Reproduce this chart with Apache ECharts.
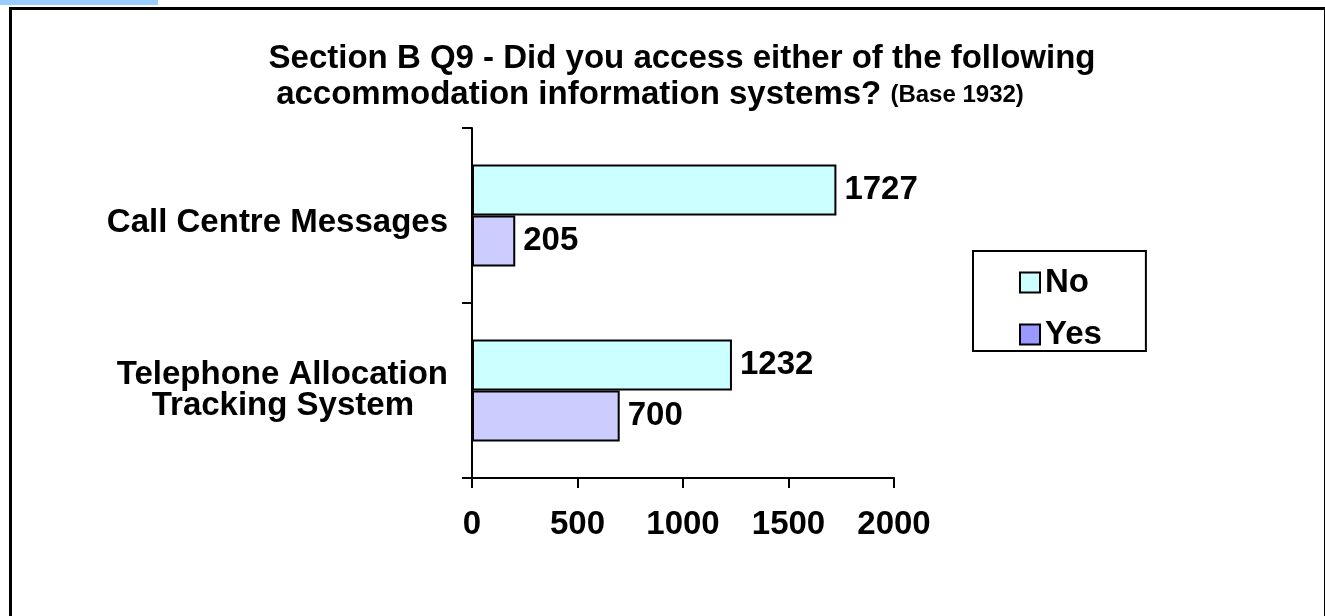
<!DOCTYPE html>
<html>
<head>
<meta charset="utf-8">
<script src="https://cdn.jsdelivr.net/npm/echarts@6/dist/echarts.min.js"></script>
<style>
  html, body { margin: 0; padding: 0; background: #fff; }
  #chart { width: 1325px; height: 616px; }
</style>
</head>
<body>
<div id="chart"></div>
<script>
var categories = ['Call Centre Messages', 'Telephone Allocation Tracking System'];
var noValues = [1727, 1232];
var yesValues = [205, 700];
var seriesNames = ['No', 'Yes'];

var FONT = '"Liberation Sans", Arial, sans-serif';
var myChart = echarts.init(document.getElementById('chart'));

var labelStyle = {
    show: true,
    position: 'right',
    distance: 8,
    color: '#000',
    fontFamily: FONT,
    fontWeight: 'bold',
    fontSize: 33
};

var option = {
    backgroundColor: '#fff',
    animation: false,
    title: {
        left: 677,
        top: 36,
        textAlign: 'center',
        text: '{t|Section B Q9 - Did you access either of the following}\n{t|accommodation information systems? }{s|(Base 1932)}',
        textStyle: {
            fontFamily: FONT,
            rich: {
                t: { fontFamily: FONT, fontWeight: 'bold', fontSize: 33, color: '#000', lineHeight: 36, align: 'center' },
                s: { fontFamily: FONT, fontWeight: 'bold', fontSize: 24, color: '#000', lineHeight: 36, padding: [0, 64, 0, 0] }
            }
        }
    },
    legend: {
        left: 973,
        top: 251,
        orient: 'vertical',
        borderColor: '#000',
        borderWidth: 2,
        padding: [15, 44, 0, 46],
        itemGap: 19,
        itemWidth: 20,
        itemHeight: 20,
        icon: 'rect',
        textStyle: { fontFamily: FONT, fontWeight: 'bold', fontSize: 33, color: '#000' },
        data: [
            { name: 'No', itemStyle: { color: '#ccffff', borderColor: '#000', borderWidth: 2 } },
            { name: 'Yes', itemStyle: { color: '#9999ff', borderColor: '#000', borderWidth: 2 } }
        ]
    },
    grid: { left: 472, right: 431, top: 128, bottom: 138 },
    xAxis: {
        type: 'value',
        min: 0,
        max: 2000,
        interval: 500,
        splitLine: { show: false },
        axisLine: { show: true, lineStyle: { color: '#000', width: 2 } },
        axisTick: { show: true, length: 10, lineStyle: { color: '#000', width: 2 } },
        axisLabel: {
            margin: 30,
            color: '#000',
            fontFamily: FONT,
            fontWeight: 'bold',
            fontSize: 33,
            formatter: function (v) { return String(v); }
        }
    },
    yAxis: {
        type: 'category',
        inverse: true,
        data: categories,
        axisLine: { show: true, lineStyle: { color: '#000', width: 2 } },
        axisTick: { show: true, length: 10, lineStyle: { color: '#000', width: 2 } },
        axisLabel: {
            margin: 24,
            color: '#000',
            formatter: function (v) {
                if (v === 'Telephone Allocation Tracking System') {
                    return '{a|Telephone Allocation}\n{b|Tracking System}';
                }
                return '{c|' + v + '}';
            },
            rich: {
                a: { fontFamily: FONT, fontWeight: 'bold', fontSize: 33, color: '#000', lineHeight: 31 },
                b: { fontFamily: FONT, fontWeight: 'bold', fontSize: 33, color: '#000', lineHeight: 31, padding: [0, 34, 0, 0] },
                c: { fontFamily: FONT, fontWeight: 'bold', fontSize: 33, color: '#000', lineHeight: 34, padding: [14, 0, 0, 0] }
            }
        }
    },
    series: [
        {
            name: seriesNames[0],
            type: 'bar',
            data: noValues,
            barWidth: 51,
            barGap: '0%',
            itemStyle: { color: '#ccffff', borderColor: '#000', borderWidth: 2 },
            label: labelStyle
        },
        {
            name: seriesNames[1],
            type: 'bar',
            data: yesValues,
            barWidth: 51,
            barGap: '0%',
            itemStyle: { color: '#ccccff', borderColor: '#000', borderWidth: 2 },
            label: labelStyle
        }
    ],
    graphic: [
        { type: 'rect', left: 0, top: 0, shape: { width: 158, height: 5 }, style: { fill: '#99ccff' }, z: 10 },
        { type: 'rect', left: 8, top: 6, shape: { width: 1315, height: 640 }, style: { fill: 'none', stroke: '#000', lineWidth: 3 }, z: 10 }
    ]
};
myChart.setOption(option);
</script>
</body>
</html>
